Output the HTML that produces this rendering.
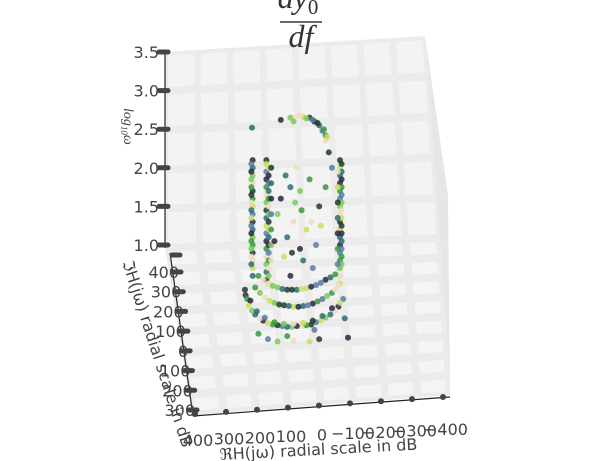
<!DOCTYPE html>
<html><head><meta charset="utf-8"><style>
html,body{margin:0;padding:0;background:#fff;}
svg{display:block;font-family:"DejaVu Sans","Liberation Sans",sans-serif;}
</style></head><body>
<svg id="chart" width="600" height="461" viewBox="0 0 600 461" xmlns="http://www.w3.org/2000/svg">
<g id="panes"></g>
<g id="ticks"></g>
<g id="pts"></g>
<g font-family="Liberation Serif, serif" font-style="italic" font-size="32" fill="#333">
<text x="298" y="8" text-anchor="middle">dy<tspan font-size="21" dy="6" font-style="normal">0</tspan></text>
<line x1="280" y1="22" x2="322" y2="22" stroke="#333" stroke-width="1.6"/>
<text x="301" y="47" text-anchor="middle">df</text>
</g>
<text transform="translate(124,108) rotate(90)" font-size="14" fill="#444" font-family="Liberation Serif, serif" font-style="italic">log<tspan font-size="9" dy="3">10</tspan><tspan dy="-3">ω</tspan></text>
<text transform="translate(122,262) rotate(72)" font-size="16" fill="#444">ℑH(jω) radial scale in dB</text>
<text transform="translate(220,460) rotate(-3)" font-size="16" fill="#444">ℜH(jω) radial scale in dB</text>
</svg>
<script>
const zTicks=[1.0,1.5,2.0,2.5,3.0,3.5];
const zTickLabels=["1.0","1.5","2.0","2.5","3.0","3.5"];
const yTickLabels=["400","300","200","100","0","100","200","300"];
const xTickLabels=["400","300","200","100","0","−100","−200","−300","−400"];
const reVals=[148,148,148,148,148,148,148,148,148,148,148,148,148,148,148,148,
152,152,152,152,152,152,152,152,152,152,152,152,152,152,
105,105,105,105,105,105,105,105,105,105,105,105,105,105,105,105,105,
98,98,98,98,98,98,98,98,98,98,98,98,98,98,98,98,
90,90,90,90,90,90,90,
-125,-125,-125,-125,-125,-125,-125,-125,-125,-125,-125,-125,-125,-125,-125,-125,-125,
-130,-130,-130,-130,-130,-130,-130,-130,-130,-130,-130,-130,-130,-130,
-118,-118,-118,-118,-118,-118,-118,
30,10,-10,-30,-45,-60,-70,-80,20,-80,60,150,-20,0,-55,-75,-85,-40,
60,30,0,-30,-60,20,-20,40,-50,0,70,-80,-90,10,-10,50,-40,30,-5,15,-35,45,25,-65,-100,80,
130,100,70,40,10,-20,-50,-80,-110,115,85,55,25,-5,-35,-65,-95,
140,110,80,50,20,-10,-40,-70,-100,-120,125,95,65,35,5,-25,-55,-85,-110,
170,160,140,115,85,55,25,-5,-35,-65,-95,-120,-135,
165,150,125,100,70,40,10,-20,-50,-80,-110,-125,
172,155,135,110,80,50,20,-10,-40,-70,-100,
130,100,70,20,-30,-60,-150,-140,-45,40];
const lwVals=[2.1,2.0,1.9,1.8,1.7,1.6,1.5,1.4,1.3,1.2,1.1,1.0,0.9,0.8,0.7,0.6,
2.05,1.95,1.85,1.75,1.65,1.55,1.45,1.35,1.25,1.15,1.05,0.95,0.85,0.75,
2.1,2.05,1.95,1.85,1.75,1.65,1.55,1.45,1.35,1.25,1.15,1.05,0.95,0.85,0.75,0.65,0.55,
2.0,1.9,1.8,1.7,1.6,1.5,1.4,1.3,1.2,1.1,1.0,0.9,0.8,0.7,0.6,0.5,
2.0,1.8,1.6,1.4,1.2,1.0,0.8,
2.1,2.0,1.9,1.8,1.7,1.6,1.5,1.4,1.3,1.2,1.1,1.0,0.9,0.8,0.7,0.6,0.5,
2.05,1.95,1.85,1.75,1.65,1.55,1.45,1.35,1.25,1.15,1.05,0.95,0.85,0.75,
1.95,1.75,1.55,1.35,1.15,0.95,0.75,
2.65,2.67,2.66,2.65,2.6,2.55,2.48,2.42,2.6,2.35,2.62,2.52,2.64,2.68,2.58,2.5,2.4,2.62,
1.6,1.75,1.7,1.85,1.5,1.3,1.2,1.1,1.0,0.95,1.4,1.75,2.2,2.0,0.8,0.85,0.7,0.6,1.45,1.55,1.3,1.9,0.9,1.25,2.0,1.05,
0.6,0.5,0.45,0.42,0.42,0.44,0.48,0.55,0.62,0.55,0.47,0.43,0.42,0.43,0.46,0.51,0.58,
0.45,0.32,0.25,0.22,0.2,0.21,0.24,0.3,0.38,0.48,0.38,0.28,0.23,0.21,0.2,0.22,0.27,0.34,0.42,
0.35,0.22,0.1,0.02,-0.03,-0.05,-0.06,-0.05,-0.03,0.02,0.1,0.2,0.3,
0.3,0.15,0.05,-0.01,-0.04,-0.06,-0.05,-0.04,0,0.06,0.15,0.25,
0.42,0.28,0.14,0.06,0.0,-0.02,-0.02,-0.01,0.02,0.08,0.18,
-0.15,-0.22,-0.25,-0.24,-0.25,-0.22,-0.2,0.05,-0.1,-0.18];
const colorIdx="0135624701326541703265147023516470253614702531640712536410725346107235641027356410723546102735460172354610273546017235";
const palette=["#2a2440","#2e6b78","#3a9a3c","#7acb5a","#c9df62","#efdcc2","#1e3a2a","#5b7aa3"];
const NS="http://www.w3.org/2000/svg";
function mk(tag,attrs,parent){const e=document.createElementNS(NS,tag);for(const k in attrs)e.setAttribute(k,attrs[k]);parent.appendChild(e);return e;}
function zY(z){return 245-(z-1)*77.2;}
function reX(re){return 300-re*0.32;}
const panes=document.getElementById('panes');
const BL=[165,248],BR=[440,238],TL=[165,52],TR=[425,36];
let p=mk('polygon',{points:'165,52 425,36 440,238 165,248',fill:'#ebebeb'},panes);

p=mk('polygon',{points:'425,36 448,195 450,395 440,238',fill:'#e6e6e6'},panes);

p=mk('polygon',{points:'165,248 440,238 450,395 192,415',fill:'#ebebeb'},panes);

function lerp(a,b,t){return [a[0]+(b[0]-a[0])*t,a[1]+(b[1]-a[1])*t];}
function bil(p00,p10,p01,p11,u,v){return lerp(lerp(p00,p10,u),lerp(p01,p11,u),v);}
for(let i=0;i<8;i++)for(let j=0;j<5;j++){
 const u0=i/8+0.012,u1=(i+1)/8-0.012,v0=j/5+0.02,v1=(j+1)/5-0.02;
 const a=bil(TL,TR,BL,BR,u0,v0),b=bil(TL,TR,BL,BR,u1,v0),c=bil(TL,TR,BL,BR,u1,v1),d=bil(TL,TR,BL,BR,u0,v1);
 mk('polygon',{points:[a,b,c,d].map(q=>q.join(',')).join(' '),fill:'#f3f3f3'},panes);
}
const F0=[165,248],F1=[440,238],F2=[192,415],F3=[450,395];
for(let i=0;i<8;i++)for(let j=0;j<8;j++){
 const u0=i/8+0.015,u1=(i+1)/8-0.015,v0=j/8+0.025,v1=(j+1)/8-0.025;
 const a=bil(F0,F1,F2,F3,u0,v0),b=bil(F0,F1,F2,F3,u1,v0),c=bil(F0,F1,F2,F3,u1,v1),d=bil(F0,F1,F2,F3,u0,v1);
 mk('polygon',{points:[a,b,c,d].map(q=>q.join(',')).join(' '),fill:'#f4f4f4'},panes);
}
const ticks=document.getElementById('ticks');
mk('line',{x1:165,y1:52,x2:165,y2:248,stroke:'#222','stroke-width':1.2},ticks);
mk('line',{x1:170,y1:253,x2:193,y2:416,stroke:'#222','stroke-width':1.2},ticks);
mk('line',{x1:193,y1:416,x2:450,y2:397,stroke:'#222','stroke-width':1.2},ticks);
zTicks.forEach((z,i)=>{
 const y=zY(z);
 const t=mk('line',{x1:159,y1:y,x2:168,y2:y,stroke:'#444','stroke-width':5,'stroke-linecap':'round'},ticks);
 
 const l=mk('text',{x:159,y:y+6,'text-anchor':'end','font-size':16,fill:'#444'},ticks);
 l.textContent=zTickLabels[i];
 
});
mk('line',{x1:172,y1:255,x2:180,y2:255,stroke:'#444','stroke-width':5,'stroke-linecap':'round'},ticks);
yTickLabels.forEach((s,i)=>{
 const t=i/7,x=173+t*16,y=272+t*138;
 const m=mk('line',{x1:x,y1:y,x2:x+8,y2:y,stroke:'#444','stroke-width':5,'stroke-linecap':'round'},ticks);
 
 const l=mk('text',{x:x+6,y:y+6,'text-anchor':'end','font-size':16,fill:'#444'},ticks);
 l.textContent=s;
 
});
xTickLabels.forEach((s,i)=>{
 const t=i/8,x=195+t*248,y=414-t*17;
 const m=mk('circle',{cx:x,cy:y,r:3,fill:'#444'},ticks);
 
 const l=mk('text',{x:x+3,y:446-t*11,'text-anchor':'middle','font-size':16,fill:'#444'},ticks);
 l.textContent=s;
 
});
const pts=document.getElementById('pts');
reVals.forEach((re,i)=>{
 const c=mk('circle',{cx:reX(re),cy:zY(lwVals[i]),r:3,fill:palette[+colorIdx[i%colorIdx.length]],'fill-opacity':0.85},pts);
 
 
});
</script>
</body></html>
